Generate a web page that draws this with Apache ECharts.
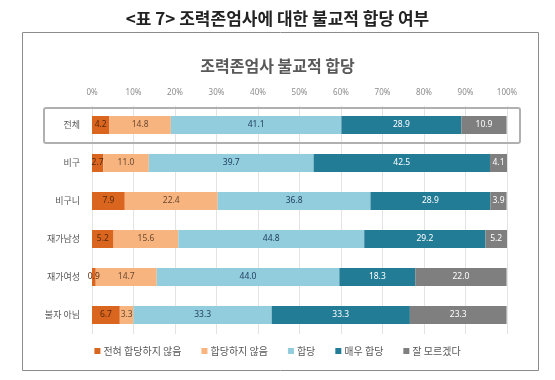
<!DOCTYPE html>
<html><head><meta charset="utf-8">
<script src="https://cdn.jsdelivr.net/npm/echarts@6/dist/echarts.min.js"></script>
<style>html,body{margin:0;padding:0;background:#fff}#c{width:555px;height:380px}</style>
</head><body><div id="c"></div>
<script>
const categories = ['전체','비구','비구니','재가남성','재가여성','불자 아님'];
const seriesNames = ['전혀 합당하지 않음','합당하지 않음','합당','매우 합당','잘 모르겠다'];
const notAtAll = [4.2, 2.7, 7.9, 5.2, 0.9, 6.7];
const notReasonable = [14.8, 11.0, 22.4, 15.6, 14.7, 3.3];
const reasonable = [41.1, 39.7, 36.8, 44.8, 44.0, 33.3];
const veryReasonable = [28.9, 42.5, 28.9, 29.2, 18.3, 33.3];
const dontKnow = [10.9, 4.1, 3.9, 5.2, 22.0, 23.3];
const xTicks = ['0%','10%','20%','30%','40%','50%','60%','70%','80%','90%','100%'];

const colors = ['#D9651F','#F8B47F','#92CDDD','#237C96','#7F7F7F'];
const labelColors = ['#5a2a0a','#6b4a30','#1f3b5a','#ffffff','#ffffff'];
const values = [notAtAll, notReasonable, reasonable, veryReasonable, dontKnow];

const chart = echarts.init(document.getElementById('c'));
chart.setOption({
  animation:false,
  title:[
    {text:'<표 7> 조력존엄사에 대한 불교적 합당 여부', left:'center', top:5,
     textStyle:{fontFamily:'Noto Sans CJK KR', fontSize:17, fontWeight:'bold', color:'#222'}},
    {text:'조력존엄사 불교적 합당', left:'center', top:53,
     textStyle:{fontFamily:'Noto Sans CJK KR', fontSize:16, fontWeight:'bold', color:'#595959'}}
  ],
  graphic:[
    {type:'rect', shape:{x:22.5,y:32.5,width:516,height:338}, style:{fill:'none', stroke:'#8c8c8c', lineWidth:1}},
    {type:'rect', shape:{x:44,y:108,width:476,height:35,r:2}, style:{fill:'none', stroke:'#b0b0b0', lineWidth:2}, z:10}
  ],
  legend:{data:seriesNames, bottom:19, left:'center', itemWidth:6, itemHeight:6, itemGap:20,
    icon:'rect', textStyle:{fontFamily:'Noto Sans CJK KR', fontSize:10, color:'#595959', padding:[0,0,0,-2]}},
  grid:{left:92, right:48, top:106, bottom:46},
  xAxis:{type:'value', position:'top', min:0, max:100, interval:10,
    axisLabel:{formatter:(v)=>xTicks[v/10], fontSize:8, color:'#8c8c8c', margin:9, fontFamily:'Noto Sans'},
    axisLine:{show:false}, axisTick:{show:false},
    splitLine:{lineStyle:{color:'#e3e3e3', width:1}}},
  yAxis:{type:'category', data:categories, inverse:true,
    axisLabel:{fontSize:9, color:'#595959', margin:12, fontFamily:'Noto Sans CJK KR'},
    axisLine:{show:false}, axisTick:{show:false}},
  series: seriesNames.map((n,i)=>({
    name:n, type:'bar', stack:'s', barWidth:18, data:values[i],
    itemStyle:{color:colors[i]},
    label:{show:true, position:'inside', formatter:(p)=>p.value.toFixed(1),
      fontSize:8.5, color:labelColors[i], fontFamily:'Noto Sans'}
  }))
});
</script></body></html>
